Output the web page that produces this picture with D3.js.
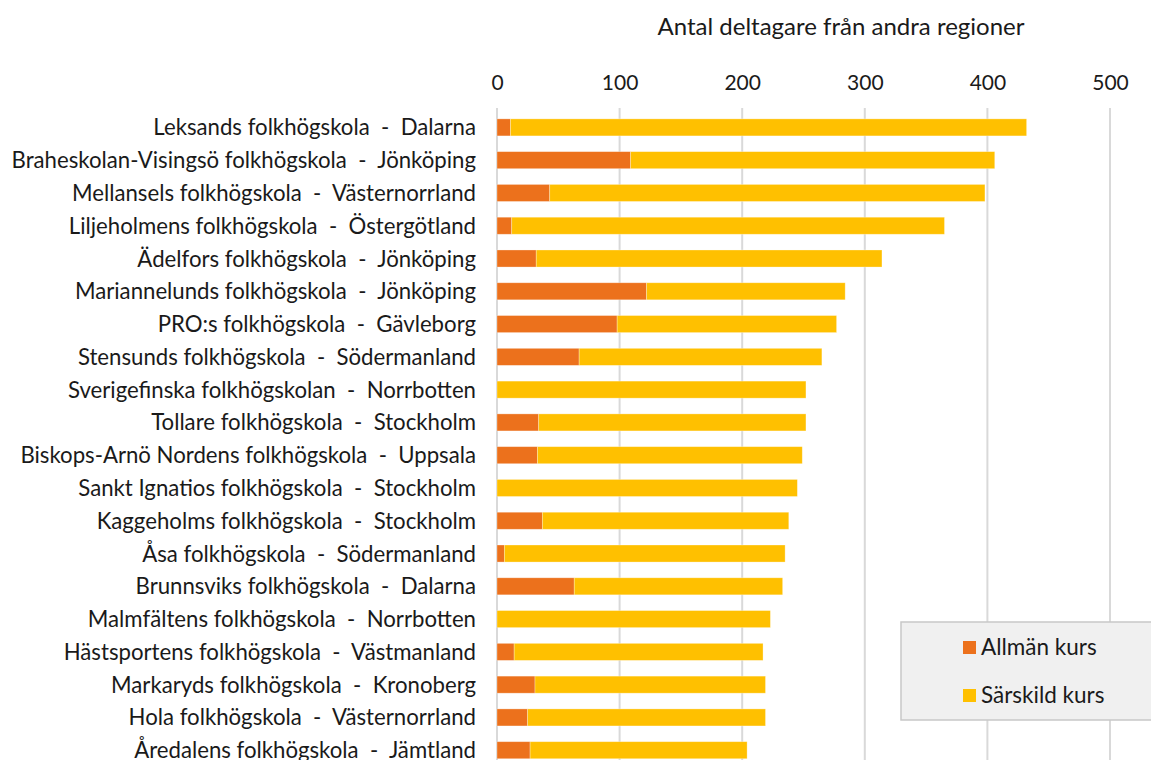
<!DOCTYPE html>
<html>
<head>
<meta charset="utf-8">
<script src="https://cdn.jsdelivr.net/npm/d3@7/dist/d3.min.js"></script>
<style>
  body { margin: 0; background: #fff; }
  text { font-family: Lato, "Open Sans", sans-serif; fill: #1a1a1a; white-space: pre; }
</style>
</head>
<body>
<svg id="chart"></svg>
<script>
var width = 1151, height = 760;

var schools = [
  "Leksands folkhögskola  -  Dalarna",
  "Braheskolan-Visingsö folkhögskola  -  Jönköping",
  "Mellansels folkhögskola  -  Västernorrland",
  "Liljeholmens folkhögskola  -  Östergötland",
  "Ädelfors folkhögskola  -  Jönköping",
  "Mariannelunds folkhögskola  -  Jönköping",
  "PRO:s folkhögskola  -  Gävleborg",
  "Stensunds folkhögskola  -  Södermanland",
  "Sverigefinska folkhögskolan  -  Norrbotten",
  "Tollare folkhögskola  -  Stockholm",
  "Biskops-Arnö Nordens folkhögskola  -  Uppsala",
  "Sankt Ignatios folkhögskola  -  Stockholm",
  "Kaggeholms folkhögskola  -  Stockholm",
  "Åsa folkhögskola  -  Södermanland",
  "Brunnsviks folkhögskola  -  Dalarna",
  "Malmfältens folkhögskola  -  Norrbotten",
  "Hästsportens folkhögskola  -  Västmanland",
  "Markaryds folkhögskola  -  Kronoberg",
  "Hola folkhögskola  -  Västernorrland",
  "Åredalens folkhögskola  -  Jämtland"
];
var allman = [11, 109, 43, 12, 32, 122, 98, 67, 0, 34, 33, 0, 37, 6, 63, 0, 14, 31, 25, 27];
var sarskild = [421, 297, 355, 353, 282, 162, 179, 198, 252, 218, 216, 245, 201, 229, 170, 223, 203, 188, 194, 177];
var seriesNames = ["Allmän kurs", "Särskild kurs"];
var colors = ["#EC711C", "#FFC000"];
var xTicks = [0, 100, 200, 300, 400, 500];
var axisTitle = "Antal deltagare från andra regioner";

var svg = d3.select('#chart')
  .attr('width', width)
  .attr('height', height);

var x = d3.scaleLinear().domain([0, 500]).range([497, 1110]);
var y = d3.scaleBand().domain(schools).range([111, 111 + 20 * 32.78])
  .paddingInner(0.48).paddingOuter(0.24);

// gridlines
svg.append("g")
  .selectAll("line")
  .data(xTicks)
  .enter()
  .append("line")
  .attr("x1", function (d) { return x(d); })
  .attr("x2", function (d) { return x(d); })
  .attr("y1", 108)
  .attr("y2", height)
  .attr("stroke", "#d9d9d9")
  .attr("stroke-width", 2);

// top axis
var axis = svg.append("g")
  .attr("transform", "translate(0,90)")
  .call(d3.axisTop(x).tickValues(xTicks).tickSize(0).tickPadding(0));
axis.select(".domain").remove();
axis.selectAll("text")
  .attr("font-size", 21)
  .style("font-family", "Lato, 'Open Sans', sans-serif")
  .attr("fill", "#1a1a1a");

svg.append("text")
  .attr("x", 841)
  .attr("y", 35)
  .attr("text-anchor", "middle")
  .attr("font-size", 24)
  .text(axisTitle);

// stacked bars
var rows = schools.map(function (s, i) {
  return { school: s, a: allman[i], b: sarskild[i] };
});
var stack = d3.stack().keys(["a", "b"])(rows);

svg.append("g")
  .selectAll("g")
  .data(stack)
  .enter()
  .append("g")
  .attr("fill", function (d, i) { return colors[i]; })
  .selectAll("rect")
  .data(function (d) { return d; })
  .enter()
  .append("rect")
  .attr("x", function (d) { return x(d[0]); })
  .attr("y", function (d) { return y(d.data.school); })
  .attr("width", function (d) { return x(d[1]) - x(d[0]); })
  .attr("height", y.bandwidth())
  .attr("stroke", "#ffffff")
  .attr("stroke-opacity", 0.4)
  .attr("stroke-width", 0.75);

// category labels
svg.append("g")
  .selectAll("text")
  .data(schools)
  .enter()
  .append("text")
  .attr("x", 476)
  .attr("y", function (d) { return y(d) + y.bandwidth() / 2; })
  .attr("dy", "0.36em")
  .attr("text-anchor", "end")
  .attr("font-size", 22.2)
  .text(function (d) { return d; });

// legend
var legend = svg.append("g");
legend.append("rect")
  .attr("x", 901)
  .attr("y", 622)
  .attr("width", 270)
  .attr("height", 98)
  .attr("fill", "#f0f0f0")
  .attr("stroke", "#c8c8c8")
  .attr("stroke-width", 1.5);
var items = legend.selectAll("g.item")
  .data(seriesNames)
  .enter()
  .append("g")
  .attr("class", "item")
  .attr("transform", function (d, i) { return "translate(963," + (647 + i * 48) + ")"; });
items.append("rect")
  .attr("x", 0)
  .attr("y", -6)
  .attr("width", 13)
  .attr("height", 13)
  .attr("fill", function (d, i) { return colors[i]; });
items.append("text")
  .attr("x", 18)
  .attr("y", 0)
  .attr("dy", "0.35em")
  .attr("font-size", 22.5)
  .text(function (d) { return d; });
</script>
</body>
</html>
